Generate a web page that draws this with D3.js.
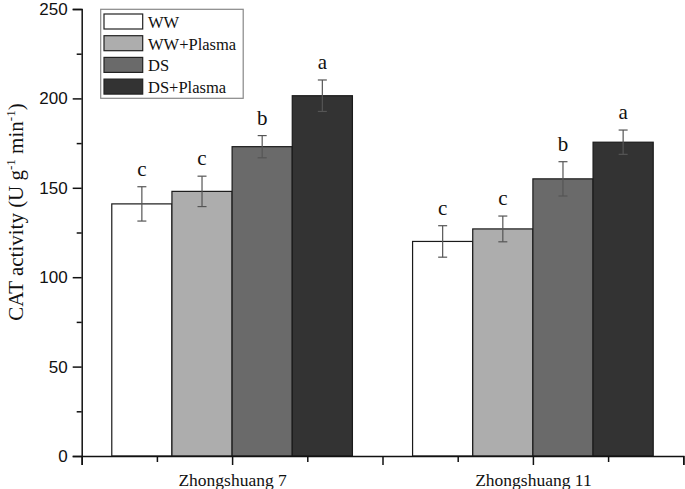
<!DOCTYPE html>
<html>
<head>
<meta charset="utf-8">
<script src="https://cdn.jsdelivr.net/npm/d3@7/dist/d3.min.js"></script>
<style>
  body { margin: 0; background: #fff; }
</style>
</head>
<body>
<div id="chart"></div>
<script>
var w = 685;
var h = 489;

// data
var cultivars = ["Zhongshuang 7", "Zhongshuang 11"];
var treatments = ["WW", "WW+Plasma", "DS", "DS+Plasma"];
var cat7 = [141, 148, 173, 201.5];
var cat11 = [120, 127, 155, 175.5];
var err7 = [9.6, 8.5, 6.2, 8.8];
var err11 = [8.8, 7.2, 9.6, 6.8];
var letters7 = ["c", "c", "b", "a"];
var letters11 = ["c", "c", "b", "a"];
var yTicks = [0, 50, 100, 150, 200, 250];

var fills = ["#ffffff", "#adadad", "#6a6a6a", "#333333"];

var svg = d3.select("#chart")
    .append("svg")
    .attr("width", w)
    .attr("height", h);

var x = d3.scaleLinear().domain([0, 4]).range([81.7, 683.3]);
var y = d3.scaleLinear().domain([0, 250]).range([456, 9]);
var barW = 0.4;

var rows = [];
[cat7, cat11].forEach(function (vals, c) {
    vals.forEach(function (v, i) {
        rows.push({
            cat: c * 2 + 1,
            i: i,
            v: v,
            e: (c == 0 ? err7 : err11)[i],
            l: (c == 0 ? letters7 : letters11)[i]
        });
    });
});

// bars
svg.selectAll("rect.bar")
    .data(rows)
    .enter()
    .append("rect")
    .attr("class", "bar")
    .attr("x", function (d) { return x(d.cat + (d.i - 2) * barW); })
    .attr("y", function (d) { return y(d.v); })
    .attr("width", x(barW) - x(0))
    .attr("height", function (d) { return y(0) - y(d.v); })
    .attr("fill", function (d) { return fills[d.i]; })
    .attr("stroke", "#1a1a1a")
    .attr("stroke-width", 1.2);

// error bars
var eb = svg.selectAll("g.err")
    .data(rows)
    .enter()
    .append("g")
    .attr("class", "err")
    .attr("stroke", "#555")
    .attr("stroke-width", 1.2);
function cx(d) { return x(d.cat + (d.i - 2) * barW + barW / 2); }
eb.append("line")
    .attr("x1", cx).attr("x2", cx)
    .attr("y1", function (d) { return y(d.v + d.e); })
    .attr("y2", function (d) { return y(d.v - d.e); });
eb.append("line")
    .attr("x1", function (d) { return cx(d) - 4.5; })
    .attr("x2", function (d) { return cx(d) + 4.5; })
    .attr("y1", function (d) { return y(d.v + d.e); })
    .attr("y2", function (d) { return y(d.v + d.e); });
eb.append("line")
    .attr("x1", function (d) { return cx(d) - 4.5; })
    .attr("x2", function (d) { return cx(d) + 4.5; })
    .attr("y1", function (d) { return y(d.v - d.e); })
    .attr("y2", function (d) { return y(d.v - d.e); });

// significance letters
svg.selectAll("text.sig")
    .data(rows)
    .enter()
    .append("text")
    .attr("class", "sig")
    .text(function (d) { return d.l; })
    .attr("x", cx)
    .attr("y", function (d) { return y(d.v + d.e) - 11; })
    .attr("font-family", "Liberation Serif, Times New Roman, serif")
    .attr("font-size", "21px")
    .attr("fill", "#111")
    .attr("text-anchor", "middle");

// y axis
var yAxis = svg.append("g")
    .attr("transform", "translate(" + x(0) + ",0)")
    .call(d3.axisLeft(y).tickValues(yTicks).tickSize(9).tickPadding(5));
svg.append("g")
    .attr("transform", "translate(" + x(0) + ",0)")
    .call(d3.axisLeft(y).tickValues([25, 75, 125, 175, 225]).tickSize(5).tickFormat(""))
    .select(".domain").remove();
yAxis.selectAll("text")
    .attr("font-family", "Liberation Sans, Arial, sans-serif")
    .attr("font-size", "17px")
    .attr("fill", "#111");

// x axis
var xAxis = svg.append("g")
    .attr("transform", "translate(0," + y(0) + ")")
    .call(d3.axisBottom(x).tickValues([0, 1, 2, 3, 4]).tickSize(9).tickPadding(9)
        .tickFormat(function (d) {
            return d == 1 ? cultivars[0] : d == 3 ? cultivars[1] : "";
        }));
svg.append("g")
    .attr("transform", "translate(0," + y(0) + ")")
    .call(d3.axisBottom(x).tickValues([0.5, 1.5, 2.5, 3.5]).tickSize(6).tickFormat(""))
    .select(".domain").remove();
xAxis.selectAll("text")
    .attr("font-family", "Liberation Serif, Times New Roman, serif")
    .attr("font-size", "17.5px")
    .attr("fill", "#111");

svg.selectAll(".domain, .tick line")
    .attr("stroke", "#111")
    .attr("stroke-width", 1.5);

// y axis title
var title = svg.append("text")
    .attr("transform", "translate(23,212) rotate(-90)")
    .attr("text-anchor", "middle")
    .attr("font-family", "Liberation Serif, Times New Roman, serif")
    .attr("font-size", "21px")
    .attr("fill", "#111");
title.append("tspan").text("CAT activity (U g");
title.append("tspan").text("-1").attr("font-size", "13px").attr("dy", -8);
title.append("tspan").text(" min").attr("dy", 8);
title.append("tspan").text("-1").attr("font-size", "13px").attr("dy", -8);
title.append("tspan").text(")").attr("dy", 8);

// legend
var lg = svg.append("g");
lg.append("rect")
    .attr("x", 100.7).attr("y", 9.3)
    .attr("width", 142.5).attr("height", 89)
    .attr("fill", "#fff")
    .attr("stroke", "#888")
    .attr("stroke-width", 1.2);
var items = lg.selectAll("g.item")
    .data(treatments)
    .enter()
    .append("g")
    .attr("transform", function (d, i) { return "translate(104," + (14 + i * 21.7) + ")"; });
items.append("rect")
    .attr("width", 38.7).attr("height", 15)
    .attr("fill", function (d, i) { return fills[i]; })
    .attr("stroke", "#222")
    .attr("stroke-width", 1.2);
items.append("text")
    .text(function (d) { return d; })
    .attr("x", 44).attr("y", 14)
    .attr("font-family", "Liberation Serif, Times New Roman, serif")
    .attr("font-size", "16.5px")
    .attr("fill", "#111");
</script>
</body>
</html>
